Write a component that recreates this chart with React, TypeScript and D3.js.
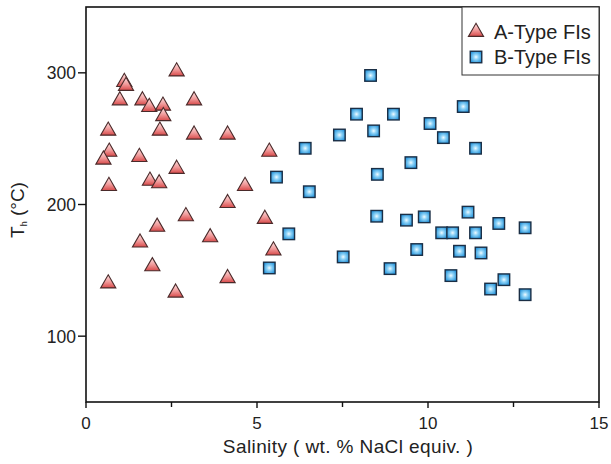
import React from "react";
import * as d3 from "d3";

const aSalinity = [2.65, 1.12, 1.17, 0.99, 1.65, 1.85, 2.25, 2.26, 3.16, 0.65, 2.16, 3.16, 4.14, 0.68, 0.51, 1.56, 5.36, 2.65, 0.67, 1.87, 2.14, 4.65, 4.14, 2.92, 5.23, 2.08, 1.58, 3.63, 5.48, 1.94, 0.65, 4.14, 2.62];
const aTemp = [301, 293, 290, 279, 279, 274, 275, 267, 279, 256, 256, 253, 253, 240, 234, 236, 240, 227, 214, 218, 216, 214, 201, 191, 189, 183, 171, 175, 165, 153, 140, 144, 133];

const bSalinity = [6.41, 5.57, 6.53, 5.93, 5.36, 8.32, 7.91, 8.99, 11.03, 10.06, 7.41, 8.41, 10.45, 11.39, 9.5, 8.52, 8.5, 9.37, 9.89, 11.17, 12.07, 12.84, 10.4, 10.72, 11.39, 7.52, 8.89, 9.67, 10.92, 11.55, 10.67, 12.22, 11.83, 12.84];
const bTemp = [242.7, 220.8, 209.7, 177.7, 151.8, 298, 268.6, 268.6, 274.4, 261.5, 252.8, 255.9, 250.8, 242.7, 231.8, 222.9, 191.1, 188.1, 190.6, 194.2, 185.6, 182.3, 178.5, 178.5, 178.5, 160.2, 151.3, 165.8, 164.5, 163.2, 146, 142.9, 135.8, 131.5];

const xTicks = [0, 5, 10, 15];
const xMinorTicks = [2.5, 7.5, 12.5];
const yTicks = [100, 200, 300];
const legendLabels = ["A-Type FIs", "B-Type FIs"];

const W = 611;
const H = 464;
const left = 86;
const right = 599;
const top = 7;
const bottom = 402;
const font = "'Liberation Sans', Arial, sans-serif";

export default function App() {
  const x = d3.scaleLinear().domain([0, 15]).range([left, right]);
  const y = d3.scaleLinear().domain([50, 350]).range([bottom, top]);
  const tri = d3.symbol().type(d3.symbolTriangle).size(100)()!;
  const sq = 11.5;

  return (
    <svg width={W} height={H} style={{ position: "absolute", left: 0, top: 0, background: "#fff" }}>
      <defs>
        <linearGradient id="triGrad" x1="0" y1="0" x2="0" y2="1">
          <stop offset="0%" stopColor="#fde4e4" />
          <stop offset="55%" stopColor="#f09898" />
          <stop offset="100%" stopColor="#d84a4a" />
        </linearGradient>
        <radialGradient id="sqGrad" cx="0.5" cy="0.5" r="0.6">
          <stop offset="0%" stopColor="#f2fbff" />
          <stop offset="35%" stopColor="#8fd3f7" />
          <stop offset="100%" stopColor="#1e8fd8" />
        </radialGradient>
      </defs>

      <rect x={left} y={top} width={right - left} height={bottom - top} fill="none" stroke="#111" strokeWidth={1.6} />

      {xTicks.map((t) => (
        <g key={"xt" + t}>
          <line x1={x(t)} x2={x(t)} y1={bottom} y2={bottom + 6} stroke="#111" strokeWidth={1.4} />
          <text x={x(t)} y={bottom + 27} textAnchor="middle" fontFamily={font} fontSize={17} fill="#222">{t}</text>
        </g>
      ))}
      {xMinorTicks.map((t) => (
        <line key={"xm" + t} x1={x(t)} x2={x(t)} y1={bottom} y2={bottom + 5} stroke="#111" strokeWidth={1.4} />
      ))}
      {yTicks.map((t) => (
        <g key={"yt" + t}>
          <line x1={left - 8} x2={left} y1={y(t)} y2={y(t)} stroke="#111" strokeWidth={1.4} />
          <text x={left - 10} y={y(t) + 6.5} textAnchor="end" fontFamily={font} fontSize={17.5} fill="#222">{t}</text>
        </g>
      ))}

      <text x={348} y={453} textAnchor="middle" fontFamily={font} fontSize={19} fill="#222" letterSpacing={0.4}>
        Salinity ( wt. % NaCl equiv. )
      </text>
      <text transform={`translate(24, 210) rotate(-90)`} textAnchor="middle" fontFamily={font} fontSize={19} fill="#222">
        T<tspan fontSize={9} dy={3}>h</tspan><tspan dy={-3}> (°C)</tspan>
      </text>

      {aSalinity.map((s, i) => (
        <path key={"a" + i} d={tri} transform={`translate(${x(s)},${y(aTemp[i])})`} fill="url(#triGrad)" stroke="#4a2a2a" strokeWidth={1.1} />
      ))}
      {bSalinity.map((s, i) => (
        <rect key={"b" + i} x={x(s) - sq / 2} y={y(bTemp[i]) - sq / 2} width={sq} height={sq} fill="url(#sqGrad)" stroke="#1a2e45" strokeWidth={1.4} />
      ))}

      <rect x={462} y={top} width={right - 462} height={68} fill="#fff" stroke="#333" strokeWidth={1} />
      <path d={tri} transform={`translate(476,32)`} fill="url(#triGrad)" stroke="#4a2a2a" strokeWidth={1.1} />
      <text x={494} y={39} fontFamily={font} fontSize={20} fill="#222">{legendLabels[0]}</text>
      <rect x={476 - sq / 2} y={57 - sq / 2} width={sq} height={sq} fill="url(#sqGrad)" stroke="#1a2e45" strokeWidth={1.4} />
      <text x={494} y={64} fontFamily={font} fontSize={20} fill="#222">{legendLabels[1]}</text>
    </svg>
  );
}
